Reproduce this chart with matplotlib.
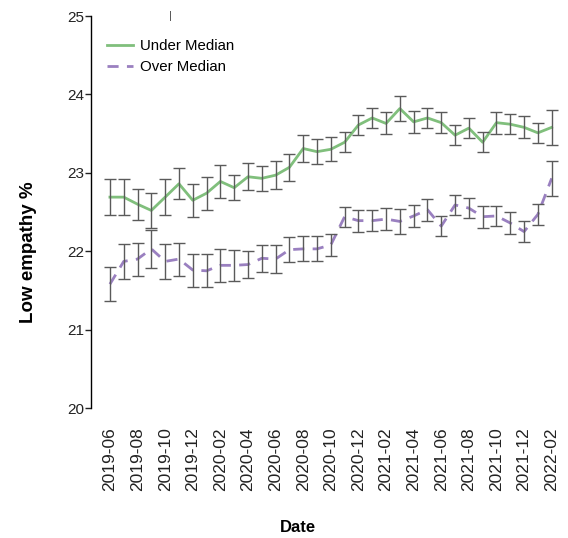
import numpy as np
import pandas as pd
import matplotlib
matplotlib.use('Agg')
import matplotlib.pyplot as plt

plt.rcParams['font.family'] = ['Liberation Sans', 'DejaVu Sans']

months = pd.date_range('2019-06-01', '2022-02-01', freq='MS').strftime('%Y-%m').tolist()

under_median = [22.69, 22.69, 22.60, 22.52, 22.69, 22.86, 22.65, 22.74, 22.89, 22.81,
                22.95, 22.93, 22.97, 23.07, 23.31, 23.27, 23.30, 23.39, 23.61, 23.70,
                23.63, 23.82, 23.65, 23.70, 23.64, 23.48, 23.57, 23.39, 23.64, 23.62,
                23.58, 23.51, 23.58]
under_err = [0.23, 0.23, 0.20, 0.22, 0.23, 0.20, 0.21, 0.21, 0.21, 0.16,
             0.17, 0.16, 0.18, 0.17, 0.17, 0.16, 0.155, 0.13, 0.13, 0.13,
             0.14, 0.155, 0.14, 0.13, 0.13, 0.13, 0.13, 0.13, 0.14, 0.13,
             0.14, 0.13, 0.22]

over_median = [21.58, 21.87, 21.90, 22.03, 21.87, 21.90, 21.76, 21.75, 21.82, 21.82,
               21.83, 21.91, 21.90, 22.02, 22.03, 22.03, 22.08, 22.44, 22.39, 22.39,
               22.41, 22.38, 22.45, 22.53, 22.32, 22.59, 22.55, 22.44, 22.45, 22.36,
               22.25, 22.47, 22.93]
over_err = [0.22, 0.22, 0.21, 0.24, 0.225, 0.21, 0.21, 0.21, 0.21, 0.195,
            0.17, 0.17, 0.18, 0.16, 0.16, 0.16, 0.145, 0.13, 0.14, 0.13,
            0.14, 0.16, 0.14, 0.14, 0.13, 0.13, 0.13, 0.14, 0.13, 0.14,
            0.13, 0.13, 0.22]

green = '#80bf7c'
purple = '#9a80c0'
x = np.arange(len(months))

fig = plt.figure(figsize=(5.68, 5.38), dpi=100)
ax = fig.add_axes([0.160, 0.2416, 0.838, 0.7286])

ax.plot(x, under_median, color=green, lw=2.0, label='Under Median', zorder=2)
ax.plot(x, over_median, color=purple, lw=2.0, ls=(0, (4, 3)), label='Over Median', zorder=2)
ax.errorbar(x, under_median, yerr=under_err, fmt='none', ecolor='#5a5a5a',
            elinewidth=1.0, capsize=4, capthick=1.0, zorder=3)
ax.errorbar(x, over_median, yerr=over_err, fmt='none', ecolor='#5a5a5a',
            elinewidth=1.0, capsize=4, capthick=1.0, zorder=3)

ax.set_ylim(20, 25)
ax.set_xlim(-1.38, 33.1)
ax.set_yticks([20, 21, 22, 23, 24, 25])
ax.set_xticks(x[::2])
ax.set_xticklabels(months[::2], rotation=90)

for s in ['top', 'right', 'bottom']:
    ax.spines[s].set_visible(False)
ax.spines['left'].set_linewidth(1.0)
ax.tick_params(axis='y', length=4, width=1.0, labelsize=11, pad=1, colors='#222222')
ax.tick_params(axis='x', length=0, labelsize=12.5, pad=14, colors='#222222')

ax.set_ylabel('Low empathy %', fontsize=13.5, fontweight='bold')
ax.yaxis.set_label_coords(-0.114, 0.398)
ax.set_xlabel('Date', fontsize=12, fontweight='bold')
ax.xaxis.set_label_coords((298 - 91) / 476, -0.285)

ax.legend(loc='upper left', bbox_to_anchor=(0.034, 0.942), frameon=False,
          fontsize=10.8, handlelength=1.75, handletextpad=0.45, labelspacing=0.5,
          borderpad=0, borderaxespad=0)

fig.text(170 / 568, 1 - 16 / 538, '|', fontsize=8, color='#444444', ha='center', va='center')

fig.savefig('out.png', dpi=100)
